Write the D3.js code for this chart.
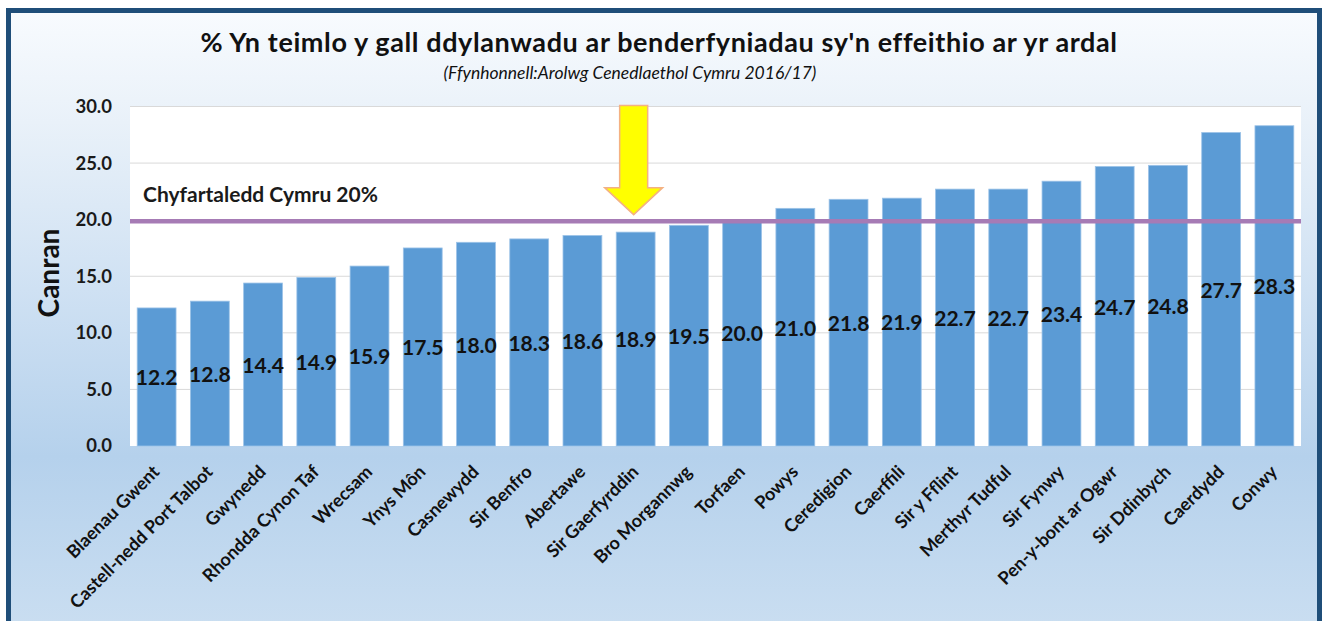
<!DOCTYPE html>
<html><head><meta charset="utf-8">
<script src="https://cdn.jsdelivr.net/npm/d3@7"></script>
<style>body{margin:0;background:#fff}svg text{font-family:Lato,"Open Sans",sans-serif;}</style>
</head><body><svg id="c" width="1322" height="621"></svg>
<script>
const categories = ["Blaenau Gwent","Castell-nedd Port Talbot","Gwynedd","Rhondda Cynon Taf","Wrecsam","Ynys Môn","Casnewydd","Sir Benfro","Abertawe","Sir Gaerfyrddin","Bro Morgannwg","Torfaen","Powys","Ceredigion","Caerffili","Sir y Fflint","Merthyr Tudful","Sir Fynwy","Pen-y-bont ar Ogwr","Sir Ddinbych","Caerdydd","Conwy"];
const values = [12.2,12.8,14.4,14.9,15.9,17.5,18.0,18.3,18.6,18.9,19.5,20.0,21.0,21.8,21.9,22.7,22.7,23.4,24.7,24.8,27.7,28.3];
const yTicks = [0,5,10,15,20,25,30];
const average = 20;
const averageLabel = "Chyfartaledd Cymru 20%";
const highlight = "Sir Gaerfyrddin";
const title = "% Yn teimlo y gall ddylanwadu ar benderfyniadau sy'n effeithio ar yr ardal";
const subtitle = "(Ffynhonnell:Arolwg Cenedlaethol Cymru 2016/17)";
const yTitle = "Canran";

const svg = d3.select("#c");
const L = 130, R = 1301, T = 106.5, B = 446;

const defs = svg.append("defs");
const g = defs.append("linearGradient").attr("id","bg").attr("x1",0).attr("y1",0).attr("x2",0).attr("y2",1);
[[0,"#f8fbfe"],[0.18,"#e9f1f9"],[0.45,"#cfe1f3"],[0.72,"#b5d1ec"],[1,"#cadef1"]].forEach(s=>g.append("stop").attr("offset",s[0]).attr("stop-color",s[1]));

svg.append("rect").attr("x",8.5).attr("y",10.5).attr("width",1311).attr("height",620)
  .attr("fill","url(#bg)").attr("stroke","#1f4e79").attr("stroke-width",5);

const x = d3.scaleBand().domain(categories).range([L,R]).paddingInner(0.27).paddingOuter(0.135);
const y = d3.scaleLinear().domain([0,30]).range([B,T]);

svg.append("rect").attr("x",L).attr("y",T).attr("width",R-L).attr("height",B-T).attr("fill","#fff");

svg.append("g").selectAll("line").data(yTicks.filter(d=>d>0)).join("line")
  .attr("x1",L).attr("x2",R).attr("y1",d=>y(d)).attr("y2",d=>y(d))
  .attr("stroke","#d9d9d9").attr("stroke-width",1);

const yAxis = d3.axisLeft(y).tickValues(yTicks).tickFormat(d3.format(".1f")).tickSize(0).tickPadding(0);
const ya = svg.append("g").attr("transform",`translate(112,0)`).call(yAxis);
ya.select(".domain").remove();
ya.selectAll("text").attr("font-size",18.5).attr("font-weight","bold").attr("fill","#1a1a1a").style("font-family","Lato");

svg.append("g").selectAll("rect").data(values).join("rect")
  .attr("x",(d,i)=>x(categories[i])).attr("width",x.bandwidth())
  .attr("y",d=>y(d)).attr("height",d=>y(0)-y(d))
  .attr("fill","#5b9bd5").attr("stroke","#9cc3e8").attr("stroke-width",0.8);

svg.append("g").selectAll("text").data(values).join("text")
  .attr("x",(d,i)=>x(categories[i])+x.bandwidth()/2)
  .attr("y",d=>(y(d)+y(0))/2+1)
  .attr("dy","0.35em").attr("text-anchor","middle")
  .attr("font-size",21).attr("font-weight","bold").attr("fill","#111")
  .text(d=>d3.format(".1f")(d));

svg.append("line").attr("x1",L).attr("x2",R).attr("y1",y(average)+1.5).attr("y2",y(average)+1.5)
  .attr("stroke","#a67bb5").attr("stroke-width",4.5);
svg.append("text").attr("x",143).attr("y",y(average)-18).attr("font-size",21).attr("font-weight","bold")
  .attr("fill","#1a1a1a").text(averageLabel);

const cx = x(highlight)+x.bandwidth()/2-2;
const arrowTop = y(30)-1, headY = y(average)-32, tipY = y(average)-5;
const pts = [[cx-14,arrowTop],[cx+14,arrowTop],[cx+14,headY],[cx+29,headY],[cx,tipY],[cx-29,headY],[cx-14,headY]];
svg.append("polygon").attr("points",pts.map(p=>p.join(",")).join(" "))
  .attr("fill","#ffff00").attr("stroke","#f4b183").attr("stroke-width",1.5);

svg.append("g").selectAll("text").data(categories).join("text")
  .attr("transform",d=>`translate(${x(d)+x.bandwidth()/2+4},473) rotate(-45)`)
  .attr("text-anchor","end").attr("font-size",18).attr("font-weight","bold").attr("fill","#111")
  .text(d=>d);

svg.append("text").attr("x",659).attr("y",52).attr("text-anchor","middle").attr("font-size",27)
  .attr("letter-spacing",0.6).attr("font-weight","bold").attr("fill","#111").text(title);
svg.append("text").attr("x",630).attr("y",79).attr("text-anchor","middle").attr("font-size",17.5)
  .attr("font-style","italic").attr("fill","#111").text(subtitle);
svg.append("text").attr("transform",`translate(59,273) rotate(-90)`).attr("text-anchor","middle")
  .attr("font-size",28).attr("font-weight","bold").attr("fill","#111").text(yTitle);
</script></body></html>
